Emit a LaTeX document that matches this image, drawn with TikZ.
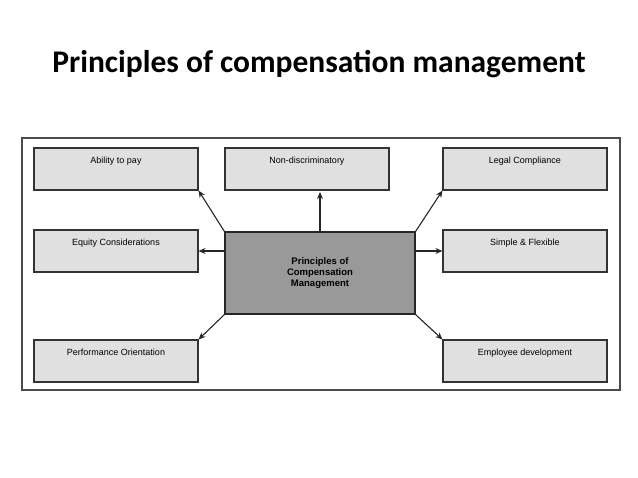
\documentclass[tikz,border=0pt]{standalone}
\usepackage{fontspec}
\setmainfont{Liberation Sans}
\newfontfamily\titlefont{Carlito}
\usetikzlibrary{arrows.meta}
\tikzset{
  pbox/.style={draw=black!80, line width=1.1pt, fill=black!12, minimum width=164pt,
    minimum height=42pt, inner sep=0pt, text depth=17pt, font=\fontsize{9}{10}\selectfont},
  cbox/.style={draw=black!85, line width=1.3pt, fill=black!40, minimum width=190pt,
    minimum height=82pt, align=center, font=\bfseries\fontsize{9.5}{11}\selectfont},
  parrow/.style={-{Stealth[length=7pt,width=6pt]}, line width=1.1pt, draw=black!85}
}
\begin{document}
\begin{tikzpicture}[x=1pt,y=-1pt]
\useasboundingbox (0,0) rectangle (638,478);
\node (T) at (319,64) {\titlefont\bfseries\fontsize{31.5}{36}\selectfont Principles of compensation management};
\draw[black!70, line width=1.4pt] (22,138) rectangle (620,390);
% boxes
\node[pbox] (A) at (116,169) {Ability to pay};
\node[pbox] (N) at (307,169) {Non-discriminatory};
\node[pbox] (L) at (525,169) {Legal Compliance};
\node[pbox] (E) at (116,251) {Equity Considerations};
\node[pbox] (S) at (525,251) {Simple \& Flexible};
\node[pbox] (P) at (116,361) {Performance Orientation};
\node[pbox] (D) at (525,361) {Employee development};
\node[cbox] (C) at (320,273) {Principles of\\Compensation\\Management};
% arrows
\draw[parrow] (C.north west) -- (A.south east);
\draw[parrow] (C.north) -- (320,192);
\draw[parrow] (C.north east) -- (L.south west);
\draw[parrow] (C.west |- E) -- (E.east);
\draw[parrow] (C.east |- S) -- (S.west);
\draw[parrow] (C.south west) -- (P.north east);
\draw[parrow] (C.south east) -- (D.north west);
\end{tikzpicture}
\end{document}
